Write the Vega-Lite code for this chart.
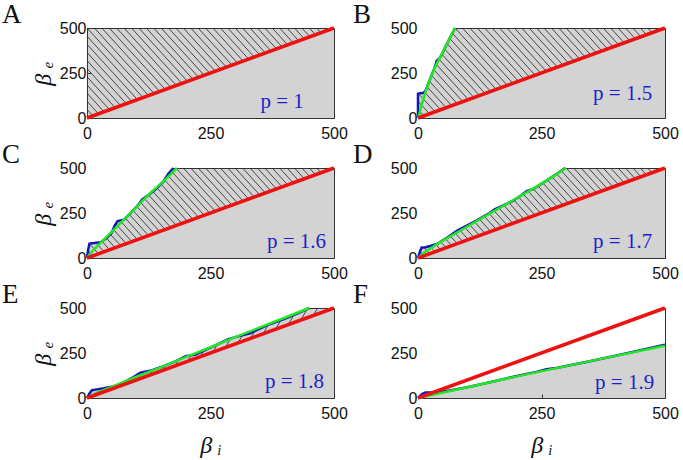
{
 "$schema": "https://vega.github.io/schema/vega-lite/v6.json",
 "padding": {"left": 1, "top": 0, "right": 5, "bottom": 0},
 "background": "white",
 "datasets": {
  "hatch1": [
   {"x":-165,"y":500,"x2":1,"y2":0},{"x":-150,"y":500,"x2":16,"y2":0},{"x":-135,"y":500,"x2":31,"y2":0},{"x":-120,"y":500,"x2":46,"y2":0},{"x":-105,"y":500,"x2":61,"y2":0},{"x":-90,"y":500,"x2":76,"y2":0},{"x":-75,"y":500,"x2":91,"y2":0},{"x":-60,"y":500,"x2":106,"y2":0},{"x":-45,"y":500,"x2":121,"y2":0},{"x":-30,"y":500,"x2":136,"y2":0},{"x":-15,"y":500,"x2":151,"y2":0},{"x":0,"y":500,"x2":166,"y2":0},{"x":15,"y":500,"x2":181,"y2":0},{"x":30,"y":500,"x2":196,"y2":0},{"x":45,"y":500,"x2":211,"y2":0},{"x":60,"y":500,"x2":226,"y2":0},{"x":75,"y":500,"x2":241,"y2":0},{"x":90,"y":500,"x2":256,"y2":0},{"x":105,"y":500,"x2":271,"y2":0},{"x":120,"y":500,"x2":286,"y2":0},{"x":135,"y":500,"x2":301,"y2":0},{"x":150,"y":500,"x2":316,"y2":0},{"x":165,"y":500,"x2":331,"y2":0},{"x":180,"y":500,"x2":346,"y2":0},{"x":195,"y":500,"x2":361,"y2":0},{"x":210,"y":500,"x2":376,"y2":0},{"x":225,"y":500,"x2":391,"y2":0},{"x":240,"y":500,"x2":406,"y2":0},{"x":255,"y":500,"x2":421,"y2":0},{"x":270,"y":500,"x2":436,"y2":0},{"x":285,"y":500,"x2":451,"y2":0},{"x":300,"y":500,"x2":466,"y2":0},{"x":315,"y":500,"x2":481,"y2":0},{"x":330,"y":500,"x2":496,"y2":0},{"x":345,"y":500,"x2":511,"y2":0},{"x":360,"y":500,"x2":526,"y2":0},{"x":375,"y":500,"x2":541,"y2":0},{"x":390,"y":500,"x2":556,"y2":0},{"x":405,"y":500,"x2":571,"y2":0},{"x":420,"y":500,"x2":586,"y2":0},{"x":435,"y":500,"x2":601,"y2":0},{"x":450,"y":500,"x2":616,"y2":0},{"x":465,"y":500,"x2":631,"y2":0},{"x":480,"y":500,"x2":646,"y2":0},{"x":495,"y":500,"x2":661,"y2":0}
  ],
  "hatch2": [
   {"x":-100,"y":0,"x2":7,"y2":500},{"x":-80,"y":0,"x2":27,"y2":500},{"x":-60,"y":0,"x2":47,"y2":500},{"x":-40,"y":0,"x2":67,"y2":500},{"x":-20,"y":0,"x2":87,"y2":500},{"x":0,"y":0,"x2":107,"y2":500},{"x":20,"y":0,"x2":127,"y2":500},{"x":40,"y":0,"x2":147,"y2":500},{"x":60,"y":0,"x2":167,"y2":500},{"x":80,"y":0,"x2":187,"y2":500},{"x":100,"y":0,"x2":207,"y2":500},{"x":120,"y":0,"x2":227,"y2":500},{"x":140,"y":0,"x2":247,"y2":500},{"x":160,"y":0,"x2":267,"y2":500},{"x":180,"y":0,"x2":287,"y2":500},{"x":200,"y":0,"x2":307,"y2":500},{"x":220,"y":0,"x2":327,"y2":500},{"x":240,"y":0,"x2":347,"y2":500},{"x":260,"y":0,"x2":367,"y2":500},{"x":280,"y":0,"x2":387,"y2":500},{"x":300,"y":0,"x2":407,"y2":500},{"x":320,"y":0,"x2":427,"y2":500},{"x":340,"y":0,"x2":447,"y2":500},{"x":360,"y":0,"x2":467,"y2":500},{"x":380,"y":0,"x2":487,"y2":500},{"x":400,"y":0,"x2":507,"y2":500},{"x":420,"y":0,"x2":527,"y2":500},{"x":440,"y":0,"x2":547,"y2":500},{"x":460,"y":0,"x2":567,"y2":500},{"x":480,"y":0,"x2":587,"y2":500}
  ],
  "diag": [{"x":0,"y":0},{"x":500,"y":500}],
  "curves": [
   {"panel":"B","series":"blue","x":0,"y":0},{"panel":"B","series":"blue","x":0,"y":135},{"panel":"B","series":"blue","x":5,"y":138},{"panel":"B","series":"blue","x":12,"y":140},{"panel":"B","series":"blue","x":16,"y":155},{"panel":"B","series":"blue","x":19,"y":176},{"panel":"B","series":"blue","x":25,"y":220},{"panel":"B","series":"blue","x":30,"y":255},{"panel":"B","series":"blue","x":35,"y":290},{"panel":"B","series":"blue","x":38,"y":318},{"panel":"B","series":"blue","x":43,"y":330},{"panel":"B","series":"blue","x":48,"y":352},{"panel":"B","series":"blue","x":58,"y":409},{"panel":"B","series":"blue","x":75,"y":500},
   {"panel":"B","series":"green","x":0,"y":0},{"panel":"B","series":"green","x":2,"y":15},{"panel":"B","series":"green","x":8,"y":80},{"panel":"B","series":"green","x":14,"y":135},{"panel":"B","series":"green","x":21,"y":190},{"panel":"B","series":"green","x":34,"y":280},{"panel":"B","series":"green","x":48,"y":354},{"panel":"B","series":"green","x":58,"y":409},{"panel":"B","series":"green","x":75,"y":500},
   {"panel":"C","series":"blue","x":0,"y":0},{"panel":"C","series":"blue","x":2,"y":40},{"panel":"C","series":"blue","x":5,"y":80},{"panel":"C","series":"blue","x":15,"y":83},{"panel":"C","series":"blue","x":28,"y":88},{"panel":"C","series":"blue","x":40,"y":112},{"panel":"C","series":"blue","x":50,"y":140},{"panel":"C","series":"blue","x":56,"y":180},{"panel":"C","series":"blue","x":62,"y":205},{"panel":"C","series":"blue","x":75,"y":213},{"panel":"C","series":"blue","x":90,"y":255},{"panel":"C","series":"blue","x":105,"y":300},{"panel":"C","series":"blue","x":112,"y":326},{"panel":"C","series":"blue","x":122,"y":345},{"panel":"C","series":"blue","x":140,"y":385},{"panel":"C","series":"blue","x":155,"y":425},{"panel":"C","series":"blue","x":165,"y":470},{"panel":"C","series":"blue","x":175,"y":500},
   {"panel":"C","series":"green","x":0,"y":0},{"panel":"C","series":"green","x":11,"y":39},{"panel":"C","series":"green","x":31,"y":94},{"panel":"C","series":"green","x":58,"y":168},{"panel":"C","series":"green","x":92,"y":261},{"panel":"C","series":"green","x":125,"y":354},{"panel":"C","series":"green","x":159,"y":437},{"panel":"C","series":"green","x":182,"y":500},
   {"panel":"D","series":"blue","x":0,"y":0},{"panel":"D","series":"blue","x":4,"y":35},{"panel":"D","series":"blue","x":7,"y":57},{"panel":"D","series":"blue","x":15,"y":60},{"panel":"D","series":"blue","x":25,"y":67},{"panel":"D","series":"blue","x":40,"y":80},{"panel":"D","series":"blue","x":60,"y":115},{"panel":"D","series":"blue","x":78,"y":150},{"panel":"D","series":"blue","x":85,"y":160},{"panel":"D","series":"blue","x":98,"y":178},{"panel":"D","series":"blue","x":120,"y":210},{"panel":"D","series":"blue","x":145,"y":250},{"panel":"D","series":"blue","x":155,"y":270},{"panel":"D","series":"blue","x":165,"y":282},{"panel":"D","series":"blue","x":190,"y":315},{"panel":"D","series":"blue","x":210,"y":350},{"panel":"D","series":"blue","x":220,"y":372},{"panel":"D","series":"blue","x":232,"y":382},{"panel":"D","series":"blue","x":260,"y":430},{"panel":"D","series":"blue","x":285,"y":475},{"panel":"D","series":"blue","x":298,"y":500},
   {"panel":"D","series":"green","x":0,"y":0},{"panel":"D","series":"green","x":10,"y":25},{"panel":"D","series":"green","x":40,"y":80},{"panel":"D","series":"green","x":100,"y":175},{"panel":"D","series":"green","x":160,"y":270},{"panel":"D","series":"green","x":220,"y":365},{"panel":"D","series":"green","x":260,"y":430},{"panel":"D","series":"green","x":300,"y":500},
   {"panel":"E","series":"blue","x":0,"y":0},{"panel":"E","series":"blue","x":5,"y":25},{"panel":"E","series":"blue","x":10,"y":43},{"panel":"E","series":"blue","x":20,"y":48},{"panel":"E","series":"blue","x":34,"y":54},{"panel":"E","series":"blue","x":50,"y":62},{"panel":"E","series":"blue","x":70,"y":80},{"panel":"E","series":"blue","x":90,"y":110},{"panel":"E","series":"blue","x":108,"y":141},{"panel":"E","series":"blue","x":132,"y":155},{"panel":"E","series":"blue","x":150,"y":172},{"panel":"E","series":"blue","x":180,"y":205},{"panel":"E","series":"blue","x":200,"y":232},{"panel":"E","series":"blue","x":220,"y":242},{"panel":"E","series":"blue","x":250,"y":280},{"panel":"E","series":"blue","x":285,"y":325},{"panel":"E","series":"blue","x":300,"y":338},{"panel":"E","series":"blue","x":330,"y":360},{"panel":"E","series":"blue","x":365,"y":405},{"panel":"E","series":"blue","x":385,"y":425},{"panel":"E","series":"blue","x":400,"y":440},{"panel":"E","series":"blue","x":430,"y":475},{"panel":"E","series":"blue","x":450,"y":500},
   {"panel":"E","series":"green","x":0,"y":0},{"panel":"E","series":"green","x":20,"y":30},{"panel":"E","series":"green","x":50,"y":62},{"panel":"E","series":"green","x":100,"y":118},{"panel":"E","series":"green","x":150,"y":172},{"panel":"E","series":"green","x":200,"y":227},{"panel":"E","series":"green","x":250,"y":282},{"panel":"E","series":"green","x":300,"y":338},{"panel":"E","series":"green","x":350,"y":392},{"panel":"E","series":"green","x":400,"y":446},{"panel":"E","series":"green","x":450,"y":500},
   {"panel":"F","series":"blue","x":0,"y":0},{"panel":"F","series":"blue","x":8,"y":22},{"panel":"F","series":"blue","x":15,"y":30},{"panel":"F","series":"blue","x":30,"y":31},{"panel":"F","series":"blue","x":45,"y":34},{"panel":"F","series":"blue","x":70,"y":45},{"panel":"F","series":"blue","x":100,"y":60},{"panel":"F","series":"blue","x":150,"y":90},{"panel":"F","series":"blue","x":200,"y":122},{"panel":"F","series":"blue","x":240,"y":145},{"panel":"F","series":"blue","x":260,"y":160},{"panel":"F","series":"blue","x":280,"y":167},{"panel":"F","series":"blue","x":300,"y":178},{"panel":"F","series":"blue","x":350,"y":205},{"panel":"F","series":"blue","x":400,"y":235},{"panel":"F","series":"blue","x":450,"y":265},{"panel":"F","series":"blue","x":500,"y":296},
   {"panel":"F","series":"green","x":0,"y":0},{"panel":"F","series":"green","x":100,"y":60},{"panel":"F","series":"green","x":200,"y":120},{"panel":"F","series":"green","x":300,"y":177},{"panel":"F","series":"green","x":400,"y":234},{"panel":"F","series":"green","x":500,"y":290}
  ],
  "labels": [
   {"panel":"A","x":439,"y":58,"label":"p = 1"},
   {"panel":"B","x":474,"y":100,"label":"p = 1.5"},
   {"panel":"C","x":484,"y":56,"label":"p = 1.6"},
   {"panel":"D","x":474,"y":56,"label":"p = 1.7"},
   {"panel":"E","x":480,"y":56,"label":"p = 1.8"},
   {"panel":"F","x":478,"y":50,"label":"p = 1.9"}
  ]
 },
 "columns": 2,
 "spacing": {"row": 50, "column": 84},
 "bounds": "flush",
 "concat": [
  {
   "width": 247, "height": 90,
   "title": {"text": "A", "dx": -85},
   "encoding": {"x": {"field": "x", "type": "quantitative", "scale": {"domain": [0, 500], "nice": false}, "axis": {"values": [0, 250, 500], "title": null}},
                "y": {"field": "y", "type": "quantitative", "scale": {"domain": [0, 500], "nice": false}, "axis": {"values": [0, 250, 500], "title": "β ₑ"}}},
   "layer": [
    {"data": {"name": "hatch1"}, "mark": {"type": "rule", "clip": true, "color": "#222", "strokeWidth": 0.8},
     "encoding": {"x2": {"field": "x2"}, "y2": {"field": "y2"}}},
    {"data": {"name": "diag"}, "mark": {"type": "area", "color": "#d3d3d3"}, "encoding": {"y2": {"datum": 0}}},
    {"data": {"name": "diag"}, "mark": {"type": "line", "color": "#ee1111", "strokeWidth": 3.5}, "encoding": {}},
    {"data": {"name": "labels"}, "transform": [{"filter": "datum.panel == 'A'"}],
     "mark": {"type": "text", "align": "right", "baseline": "alphabetic", "font": "Liberation Serif", "fontSize": 21, "color": "#1f1fcc"},
     "encoding": {"text": {"field": "label"}}}
   ]
  },
  {
   "width": 247, "height": 90,
   "title": {"text": "B", "dx": -65},
   "encoding": {"x": {"field": "x", "type": "quantitative", "scale": {"domain": [0, 500], "nice": false}, "axis": {"values": [0, 250, 500], "title": null}},
                "y": {"field": "y", "type": "quantitative", "scale": {"domain": [0, 500], "nice": false}, "axis": {"values": [0, 250, 500], "title": null}}},
   "layer": [
    {"data": {"name": "hatch1"}, "mark": {"type": "rule", "clip": true, "color": "#222", "strokeWidth": 0.8},
     "encoding": {"x2": {"field": "x2"}, "y2": {"field": "y2"}}},
    {"data": {"name": "diag"}, "mark": {"type": "area", "color": "#d3d3d3"}, "encoding": {"y2": {"datum": 0}}},
    {"data": {"name": "curves"}, "transform": [{"filter": "datum.panel == 'B' && datum.series == 'blue'"}], "mark": {"type": "area", "color": "white"},
     "encoding": {"y2": {"datum": 500}, "order": {"value": null}}},
    {"data": {"name": "curves"}, "transform": [{"filter": "datum.panel == 'B' && datum.series == 'blue'"}], "mark": {"type": "line", "color": "#1515b5", "strokeWidth": 2.5},
     "encoding": {"order": {"value": null}}},
    {"data": {"name": "curves"}, "transform": [{"filter": "datum.panel == 'B' && datum.series == 'green'"}], "mark": {"type": "line", "color": "#22e822", "strokeWidth": 2.5},
     "encoding": {"order": {"value": null}}},
    {"data": {"name": "diag"}, "mark": {"type": "line", "color": "#ee1111", "strokeWidth": 3.5}, "encoding": {}},
    {"data": {"name": "labels"}, "transform": [{"filter": "datum.panel == 'B'"}],
     "mark": {"type": "text", "align": "right", "baseline": "alphabetic", "font": "Liberation Serif", "fontSize": 21, "color": "#1f1fcc"},
     "encoding": {"text": {"field": "label"}}}
   ]
  },
  {
   "width": 247, "height": 90,
   "title": {"text": "C", "dx": -85},
   "encoding": {"x": {"field": "x", "type": "quantitative", "scale": {"domain": [0, 500], "nice": false}, "axis": {"values": [0, 250, 500], "title": null}},
                "y": {"field": "y", "type": "quantitative", "scale": {"domain": [0, 500], "nice": false}, "axis": {"values": [0, 250, 500], "title": "β ₑ"}}},
   "layer": [
    {"data": {"name": "hatch1"}, "mark": {"type": "rule", "clip": true, "color": "#222", "strokeWidth": 0.8},
     "encoding": {"x2": {"field": "x2"}, "y2": {"field": "y2"}}},
    {"data": {"name": "diag"}, "mark": {"type": "area", "color": "#d3d3d3"}, "encoding": {"y2": {"datum": 0}}},
    {"data": {"name": "curves"}, "transform": [{"filter": "datum.panel == 'C' && datum.series == 'blue'"}], "mark": {"type": "area", "color": "white"},
     "encoding": {"y2": {"datum": 500}, "order": {"value": null}}},
    {"data": {"name": "curves"}, "transform": [{"filter": "datum.panel == 'C' && datum.series == 'blue'"}], "mark": {"type": "line", "color": "#1515b5", "strokeWidth": 2.5},
     "encoding": {"order": {"value": null}}},
    {"data": {"name": "curves"}, "transform": [{"filter": "datum.panel == 'C' && datum.series == 'green'"}], "mark": {"type": "line", "color": "#22e822", "strokeWidth": 2.5},
     "encoding": {"order": {"value": null}}},
    {"data": {"name": "diag"}, "mark": {"type": "line", "color": "#ee1111", "strokeWidth": 3.5}, "encoding": {}},
    {"data": {"name": "labels"}, "transform": [{"filter": "datum.panel == 'C'"}],
     "mark": {"type": "text", "align": "right", "baseline": "alphabetic", "font": "Liberation Serif", "fontSize": 21, "color": "#1f1fcc"},
     "encoding": {"text": {"field": "label"}}}
   ]
  },
  {
   "width": 247, "height": 90,
   "title": {"text": "D", "dx": -65},
   "encoding": {"x": {"field": "x", "type": "quantitative", "scale": {"domain": [0, 500], "nice": false}, "axis": {"values": [0, 250, 500], "title": null}},
                "y": {"field": "y", "type": "quantitative", "scale": {"domain": [0, 500], "nice": false}, "axis": {"values": [0, 250, 500], "title": null}}},
   "layer": [
    {"data": {"name": "hatch1"}, "mark": {"type": "rule", "clip": true, "color": "#222", "strokeWidth": 0.8},
     "encoding": {"x2": {"field": "x2"}, "y2": {"field": "y2"}}},
    {"data": {"name": "diag"}, "mark": {"type": "area", "color": "#d3d3d3"}, "encoding": {"y2": {"datum": 0}}},
    {"data": {"name": "curves"}, "transform": [{"filter": "datum.panel == 'D' && datum.series == 'blue'"}], "mark": {"type": "area", "color": "white"},
     "encoding": {"y2": {"datum": 500}, "order": {"value": null}}},
    {"data": {"name": "curves"}, "transform": [{"filter": "datum.panel == 'D' && datum.series == 'blue'"}], "mark": {"type": "line", "color": "#1515b5", "strokeWidth": 2.5},
     "encoding": {"order": {"value": null}}},
    {"data": {"name": "curves"}, "transform": [{"filter": "datum.panel == 'D' && datum.series == 'green'"}], "mark": {"type": "line", "color": "#22e822", "strokeWidth": 2.5},
     "encoding": {"order": {"value": null}}},
    {"data": {"name": "diag"}, "mark": {"type": "line", "color": "#ee1111", "strokeWidth": 3.5}, "encoding": {}},
    {"data": {"name": "labels"}, "transform": [{"filter": "datum.panel == 'D'"}],
     "mark": {"type": "text", "align": "right", "baseline": "alphabetic", "font": "Liberation Serif", "fontSize": 21, "color": "#1f1fcc"},
     "encoding": {"text": {"field": "label"}}}
   ]
  },
  {
   "width": 247, "height": 90,
   "title": {"text": "E", "dx": -85},
   "encoding": {"x": {"field": "x", "type": "quantitative", "scale": {"domain": [0, 500], "nice": false}, "axis": {"values": [0, 250, 500], "title": "β ᵢ"}},
                "y": {"field": "y", "type": "quantitative", "scale": {"domain": [0, 500], "nice": false}, "axis": {"values": [0, 250, 500], "title": "β ₑ"}}},
   "layer": [
    {"data": {"name": "hatch2"}, "mark": {"type": "rule", "clip": true, "color": "#222", "strokeWidth": 0.8},
     "encoding": {"x2": {"field": "x2"}, "y2": {"field": "y2"}}},
    {"data": {"name": "diag"}, "mark": {"type": "area", "color": "#d3d3d3"}, "encoding": {"y2": {"datum": 0}}},
    {"data": {"name": "curves"}, "transform": [{"filter": "datum.panel == 'E' && datum.series == 'blue'"}], "mark": {"type": "area", "color": "white"},
     "encoding": {"y2": {"datum": 500}, "order": {"value": null}}},
    {"data": {"name": "curves"}, "transform": [{"filter": "datum.panel == 'E' && datum.series == 'blue'"}], "mark": {"type": "line", "color": "#1515b5", "strokeWidth": 2.5},
     "encoding": {"order": {"value": null}}},
    {"data": {"name": "curves"}, "transform": [{"filter": "datum.panel == 'E' && datum.series == 'green'"}], "mark": {"type": "line", "color": "#22e822", "strokeWidth": 2.5},
     "encoding": {"order": {"value": null}}},
    {"data": {"name": "diag"}, "mark": {"type": "line", "color": "#ee1111", "strokeWidth": 3.5}, "encoding": {}},
    {"data": {"name": "labels"}, "transform": [{"filter": "datum.panel == 'E'"}],
     "mark": {"type": "text", "align": "right", "baseline": "alphabetic", "font": "Liberation Serif", "fontSize": 21, "color": "#1f1fcc"},
     "encoding": {"text": {"field": "label"}}}
   ]
  },
  {
   "width": 247, "height": 90,
   "title": {"text": "F", "dx": -65},
   "encoding": {"x": {"field": "x", "type": "quantitative", "scale": {"domain": [0, 500], "nice": false}, "axis": {"values": [0, 250, 500], "title": "β ᵢ"}},
                "y": {"field": "y", "type": "quantitative", "scale": {"domain": [0, 500], "nice": false}, "axis": {"values": [0, 250, 500], "title": null}}},
   "layer": [
    {"data": {"name": "curves"}, "transform": [{"filter": "datum.panel == 'F' && datum.series == 'blue'"}], "mark": {"type": "area", "color": "white"},
     "encoding": {"y2": {"datum": 500}, "order": {"value": null}}},
    {"data": {"name": "curves"}, "transform": [{"filter": "datum.panel == 'F' && datum.series == 'blue'"}], "mark": {"type": "line", "color": "#1515b5", "strokeWidth": 2.5},
     "encoding": {"order": {"value": null}}},
    {"data": {"name": "curves"}, "transform": [{"filter": "datum.panel == 'F' && datum.series == 'green'"}], "mark": {"type": "line", "color": "#22e822", "strokeWidth": 2.5},
     "encoding": {"order": {"value": null}}},
    {"data": {"name": "diag"}, "mark": {"type": "line", "color": "#ee1111", "strokeWidth": 3.5}, "encoding": {}},
    {"data": {"name": "labels"}, "transform": [{"filter": "datum.panel == 'F'"}],
     "mark": {"type": "text", "align": "right", "baseline": "alphabetic", "font": "Liberation Serif", "fontSize": 21, "color": "#1f1fcc"},
     "encoding": {"text": {"field": "label"}}}
   ]
  }
 ],
 "config": {
  "view": {"stroke": "#333", "strokeWidth": 1, "fill": "#d3d3d3"},
  "axis": {"grid": false, "domain": false, "tickSize": -4, "tickColor": "#333", "labelFont": "Liberation Sans", "labelFontSize": 16, "labelColor": "#111", "labelPadding": 5, "labelFlush": false, "labelOverlap": false, "titleFont": "Liberation Serif", "titleFontStyle": "italic", "titleFontWeight": "normal", "titleFontSize": 24, "titleColor": "#111"},
  "axisX": {"labelPadding": 11, "titlePadding": 12},
  "title": {"anchor": "start", "frame": "group", "font": "Liberation Serif", "fontSize": 27, "fontWeight": "normal", "color": "#111", "offset": -9, "baseline": "alphabetic"}
 }
}
